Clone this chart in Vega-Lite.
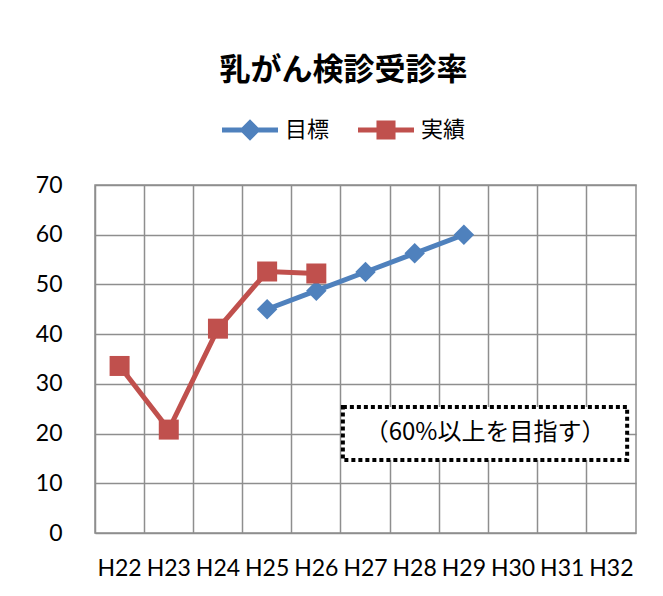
{
  "$schema": "https://vega.github.io/schema/vega-lite/v6.json",
  "width": 541,
  "height": 348,
  "autosize": {"type": "none"},
  "padding": {"left": 95, "top": 185, "right": 27, "bottom": 63},
  "background": "white",
  "title": {
    "text": "乳がん検診受診率",
    "font": "Noto Sans CJK JP",
    "fontSize": 31,
    "fontWeight": "bold",
    "color": "#000000",
    "anchor": "middle",
    "frame": "group",
    "dx": -22,
    "offset": 15
  },
  "datasets": {
    "rates": [
      {"year": "H22", "series": "実績", "rate": 33.6},
      {"year": "H23", "series": "実績", "rate": 20.8},
      {"year": "H24", "series": "実績", "rate": 41.1},
      {"year": "H25", "series": "実績", "rate": 52.6},
      {"year": "H26", "series": "実績", "rate": 52.2},
      {"year": "H25", "series": "目標", "rate": 45},
      {"year": "H26", "series": "目標", "rate": 48.75},
      {"year": "H27", "series": "目標", "rate": 52.5},
      {"year": "H28", "series": "目標", "rate": 56.25},
      {"year": "H29", "series": "目標", "rate": 60}
    ],
    "note": [
      {"x0": 5.04, "x1": 10.82, "y0": 14.7, "y1": 25.35, "xc": 7.93, "yc": 20.1, "label": "（60%以上を目指す）"}
    ]
  },
  "layer": [
    {
      "data": {"name": "rates"},
      "encoding": {
        "x": {
          "field": "year",
          "type": "ordinal",
          "bandPosition": 0.5,
          "scale": {
            "type": "band",
            "domain": ["H22", "H23", "H24", "H25", "H26", "H27", "H28", "H29", "H30", "H31", "H32"],
            "paddingInner": 0,
            "paddingOuter": 0
          },
          "axis": {
            "title": null,
            "bandPosition": 0,
            "labelAngle": 0,
            "labelPadding": 24,
            "labelFont": "Lato",
            "labelFontSize": 23,
            "labelColor": "#000000",
            "ticks": false,
            "domain": false,
            "grid": true,
            "gridColor": "#8e8e8e",
            "gridWidth": 1.5
          }
        },
        "y": {
          "field": "rate",
          "type": "quantitative",
          "scale": {"domain": [0, 70]},
          "axis": {
            "title": null,
            "values": [0, 10, 20, 30, 40, 50, 60, 70],
            "labelPadding": 33,
            "labelFont": "Lato",
            "labelFontSize": 23,
            "labelColor": "#000000",
            "ticks": false,
            "domain": false,
            "grid": true,
            "gridColor": "#8e8e8e",
            "gridWidth": 1.5
          }
        },
        "color": {
          "field": "series",
          "type": "nominal",
          "scale": {"domain": ["目標", "実績"], "range": ["#4F81BD", "#C0504D"]},
          "legend": {
            "orient": "none",
            "legendX": 127,
            "legendY": -83,
            "direction": "horizontal",
            "title": null,
            "padding": 0,
            "symbolSize": 3136,
            "symbolStrokeWidth": 0,
            "labelFont": "Noto Sans CJK JP",
            "labelFontSize": 22,
            "labelColor": "#000000",
            "labelOffset": 7,
            "columnPadding": 28,
            "encode": {
              "symbols": {
                "update": {
                  "shape": {"signal": "datum.value === '目標' ? 'M-1,-0.085H1V0.085H-1Z M0,-0.38L0.38,0L0,0.38L-0.38,0Z' : 'M-1,-0.085H1V0.085H-1Z M-0.34,-0.34H0.34V0.34H-0.34Z'"},
                  "fill": {"scale": "color", "field": "value"},
                  "opacity": {"value": 1}
                }
              }
            }
          }
        }
      },
      "layer": [
        {"mark": {"type": "line", "strokeWidth": 5}},
        {
          "transform": [{"filter": "datum.series === '目標'"}],
          "mark": {"type": "point", "shape": "diamond", "filled": true, "opacity": 1, "size": 420}
        },
        {
          "transform": [{"filter": "datum.series === '実績'"}],
          "mark": {"type": "point", "shape": "square", "filled": true, "opacity": 1, "size": 400}
        }
      ]
    },
    {
      "data": {"name": "note"},
      "mark": {"type": "rect", "fill": "white", "stroke": "black", "strokeWidth": 4, "strokeDash": [4, 3]},
      "encoding": {
        "x": {"field": "x0", "type": "quantitative", "scale": {"domain": [0, 11]}, "axis": null},
        "x2": {"field": "x1"},
        "y": {"field": "y0", "type": "quantitative"},
        "y2": {"field": "y1"}
      }
    },
    {
      "data": {"name": "note"},
      "mark": {"type": "text", "font": "Noto Sans CJK JP", "fontSize": 24, "color": "#000000", "align": "center", "baseline": "middle"},
      "encoding": {
        "x": {"field": "xc", "type": "quantitative", "scale": {"domain": [0, 11]}, "axis": null},
        "y": {"field": "yc", "type": "quantitative"},
        "text": {"field": "label"}
      }
    }
  ],
  "resolve": {"scale": {"x": "independent"}},
  "config": {
    "view": {"stroke": "#8e8e8e", "strokeWidth": 1.5}
  }
}
